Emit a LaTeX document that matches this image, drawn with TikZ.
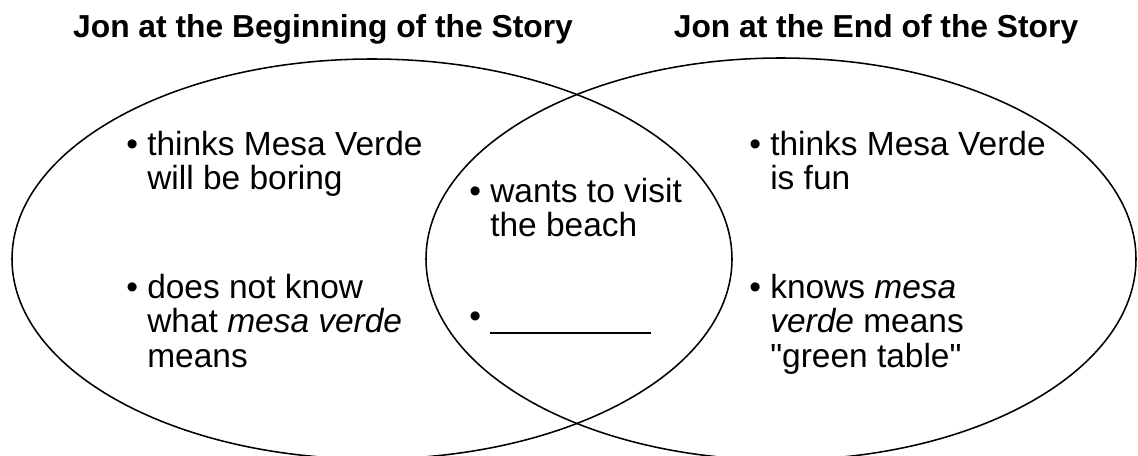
\documentclass[tikz,border=0pt]{standalone}
\usepackage{fontspec}
\setmainfont{Liberation Sans}[Ligatures=TeXOff]
\usepackage{tikz}

\newcommand{\itemlines}[1]{\textbullet\ \begin{tabular}[t]{@{}l@{}}#1\end{tabular}}

\begin{document}
\begin{tikzpicture}[x=0.025cm, y=-0.025cm,
  ring/.style={line width=1.1pt},
  heading/.style={inner sep=0pt, anchor=base, font=\bfseries\fontsize{22.6}{24}\selectfont},
  item/.style={inner sep=0pt, anchor=base west, font=\fontsize{23.8}{24.5}\selectfont}]
%%%%% Frame %%%%%
\useasboundingbox (0,0) rectangle (1138,455);
\clip (0,0) rectangle (1138,455);
%%%%% Circles %%%%%
\draw[ring] (372,259) ellipse [x radius=360, y radius=200];
\draw[ring] (781,259) ellipse [x radius=355, y radius=201];
%%%%% Headings %%%%%
\node[heading] (begtitle) at (323,37) {Jon at the Beginning of the Story};
\node[heading] (endtitle) at (876,37) {Jon at the End of the Story};
%%%%% Beginning %%%%%
\node[item] (begA) at (126,155) {\itemlines{thinks Mesa Verde\\will be boring}};
\node[item] (begB) at (126,298) {\itemlines{does not know\\what \textit{mesa verde}\\means}};
%%%%% Both %%%%%
\node[item] (bothA) at (469,202) {\itemlines{wants to visit\\the beach}};
\node[item] (bothB) at (469,327) {\textbullet\ \rule[-5pt]{114.5pt}{1.4pt}};
%%%%% End %%%%%
\node[item] (endA) at (749,155) {\itemlines{thinks Mesa Verde\\is fun}};
\node[item] (endB) at (749,298) {\itemlines{knows \textit{mesa}\\\textit{verde} means\\"green table"}};
\end{tikzpicture}
\end{document}
